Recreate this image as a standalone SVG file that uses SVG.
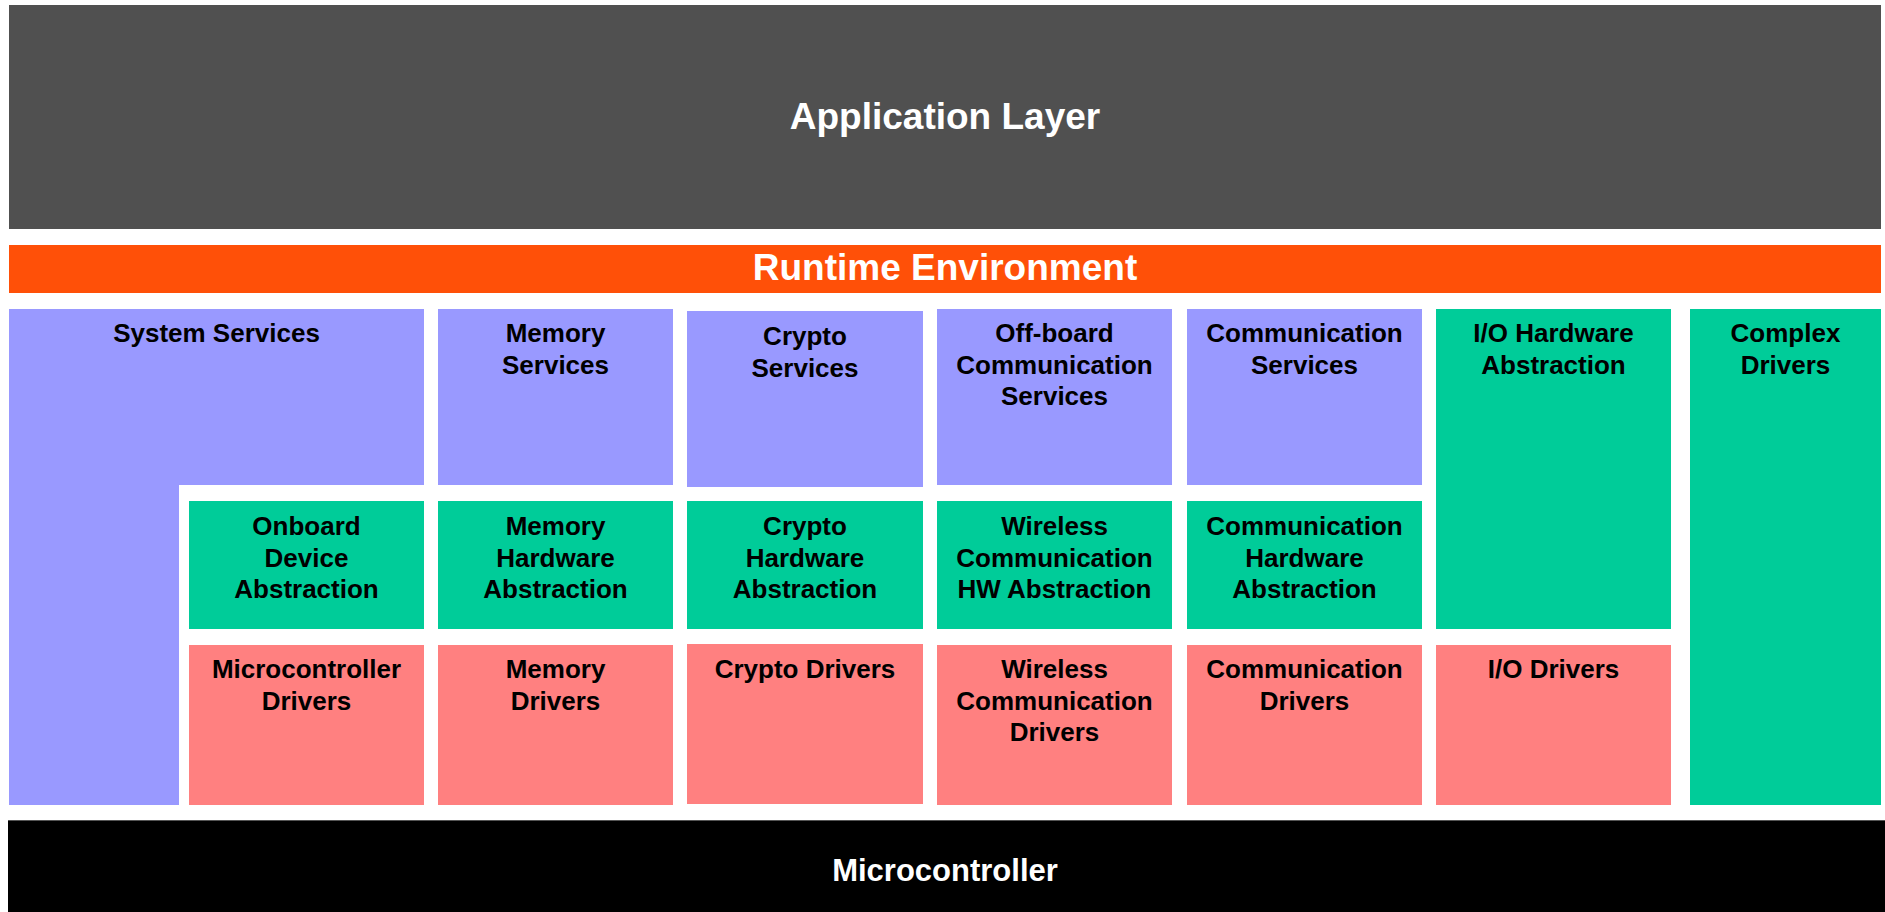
<svg xmlns="http://www.w3.org/2000/svg" width="1885" height="912" viewBox="0 0 1885 912">
<style>
.t{font-family:"Liberation Sans",Arial,sans-serif;font-weight:bold;text-anchor:middle}
.n{font-size:26px;fill:#000}
.h{fill:#fff}
.svc{fill:#9999FF}
.hw{fill:#00CC99}
.drv{fill:#FF8080}
</style>
<rect width="1885" height="912" fill="#fff"/>
<g id="application-layer">
<rect x="9" y="5" width="1872" height="224" fill="#505050"/>
<text class="t h" x="945" y="129" font-size="37">Application Layer</text>
</g>
<g id="runtime-environment">
<rect x="9" y="245" width="1872" height="48" fill="#FF5008"/>
<text class="t h" x="945" y="280" font-size="37">Runtime Environment</text>
</g>
<g id="system-services">
<path class="svc" d="M9,309H424V485H179V805H9Z"/>
<text class="t n" x="216.5" y="342">System Services</text>
</g>
<g id="memory-services">
<rect class="svc" x="438" y="309" width="235" height="176"/>
<text class="t n" x="555.5" y="342">Memory<tspan x="555.5" dy="31.7">Services</tspan></text>
</g>
<g id="crypto-services">
<rect class="svc" x="687" y="311" width="236" height="176"/>
<text class="t n" x="805" y="345">Crypto<tspan x="805" dy="31.7">Services</tspan></text>
</g>
<g id="offboard-communication-services">
<rect class="svc" x="937" y="309" width="235" height="176"/>
<text class="t n" x="1054.5" y="342">Off-board<tspan x="1054.5" dy="31.7">Communication</tspan><tspan x="1054.5" dy="31.7">Services</tspan></text>
</g>
<g id="communication-services">
<rect class="svc" x="1187" y="309" width="235" height="176"/>
<text class="t n" x="1304.5" y="342">Communication<tspan x="1304.5" dy="31.7">Services</tspan></text>
</g>
<g id="io-hardware-abstraction">
<rect class="hw" x="1436" y="309" width="235" height="320"/>
<text class="t n" x="1553.5" y="342">I/O Hardware<tspan x="1553.5" dy="31.7">Abstraction</tspan></text>
</g>
<g id="complex-drivers">
<rect class="hw" x="1690" y="309" width="191" height="496"/>
<text class="t n" x="1785.5" y="342">Complex<tspan x="1785.5" dy="31.7">Drivers</tspan></text>
</g>
<g id="onboard-device-abstraction">
<rect class="hw" x="189" y="501" width="235" height="128"/>
<text class="t n" x="306.5" y="535">Onboard<tspan x="306.5" dy="31.7">Device</tspan><tspan x="306.5" dy="31.7">Abstraction</tspan></text>
</g>
<g id="memory-hardware-abstraction">
<rect class="hw" x="438" y="501" width="235" height="128"/>
<text class="t n" x="555.5" y="535">Memory<tspan x="555.5" dy="31.7">Hardware</tspan><tspan x="555.5" dy="31.7">Abstraction</tspan></text>
</g>
<g id="crypto-hardware-abstraction">
<rect class="hw" x="687" y="501" width="236" height="128"/>
<text class="t n" x="805" y="535">Crypto<tspan x="805" dy="31.7">Hardware</tspan><tspan x="805" dy="31.7">Abstraction</tspan></text>
</g>
<g id="wireless-communication-hw-abstraction">
<rect class="hw" x="937" y="501" width="235" height="128"/>
<text class="t n" x="1054.5" y="535">Wireless<tspan x="1054.5" dy="31.7">Communication</tspan><tspan x="1054.5" dy="31.7">HW Abstraction</tspan></text>
</g>
<g id="communication-hardware-abstraction">
<rect class="hw" x="1187" y="501" width="235" height="128"/>
<text class="t n" x="1304.5" y="535">Communication<tspan x="1304.5" dy="31.7">Hardware</tspan><tspan x="1304.5" dy="31.7">Abstraction</tspan></text>
</g>
<g id="microcontroller-drivers">
<rect class="drv" x="189" y="645" width="235" height="160"/>
<text class="t n" x="306.5" y="678">Microcontroller<tspan x="306.5" dy="31.7">Drivers</tspan></text>
</g>
<g id="memory-drivers">
<rect class="drv" x="438" y="645" width="235" height="160"/>
<text class="t n" x="555.5" y="678">Memory<tspan x="555.5" dy="31.7">Drivers</tspan></text>
</g>
<g id="crypto-drivers">
<rect class="drv" x="687" y="644" width="236" height="160"/>
<text class="t n" x="805" y="678">Crypto Drivers</text>
</g>
<g id="wireless-communication-drivers">
<rect class="drv" x="937" y="645" width="235" height="160"/>
<text class="t n" x="1054.5" y="678">Wireless<tspan x="1054.5" dy="31.7">Communication</tspan><tspan x="1054.5" dy="31.7">Drivers</tspan></text>
</g>
<g id="communication-drivers">
<rect class="drv" x="1187" y="645" width="235" height="160"/>
<text class="t n" x="1304.5" y="678">Communication<tspan x="1304.5" dy="31.7">Drivers</tspan></text>
</g>
<g id="io-drivers">
<rect class="drv" x="1436" y="645" width="235" height="160"/>
<text class="t n" x="1553.5" y="678">I/O Drivers</text>
</g>
<g id="microcontroller">
<rect x="8" y="820" width="1877" height="92" fill="#000"/>
<rect x="8" y="820" width="1877" height="1" fill="#555"/>
<text class="t h" x="945" y="881" font-size="31">Microcontroller</text>
</g>
<g id="connectors"/>
</svg>
